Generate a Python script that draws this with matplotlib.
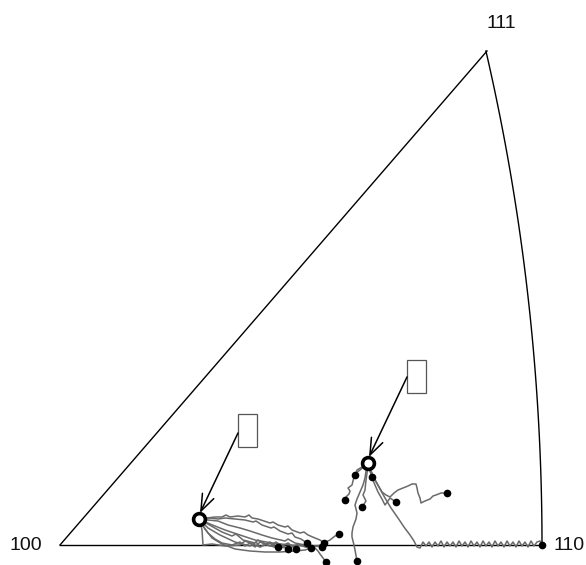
import numpy as np
import matplotlib
matplotlib.use("Agg")
import matplotlib.pyplot as plt
from matplotlib.patches import Rectangle

plt.rcParams['font.family'] = ['Liberation Sans', 'DejaVu Sans']

# Stereographic triangle corners (projection units, 100 at origin)
corner_labels = ["100", "110", "111"]
corner_x = [0.0, 482.0, 427.0]
corner_y = [0.0, 0.0, 494.0]
label_x = [-34.0, 509.0, 441.0]
label_y = [0.0, 0.0, 522.0]

# Start orientations (open circles) and their label boxes
start_x = [139.0, 308.0]
start_y = [26.0, 82.0]
box_x = [178.0, 347.0]
box_y = [98.0, 152.0]
box_w = 19.0
box_h = 33.0
arrow_from_x = [178.0, 347.0]
arrow_from_y = [112.0, 168.0]

# Trajectories starting from orientation 1
traj1 = [
    ([139, 147, 155, 162, 166, 170, 178, 185, 189, 192, 198, 204, 210, 213, 218, 225, 228, 232, 240, 244, 248, 255, 260, 264],
     [26, 27, 28, 28, 30, 28, 29, 28, 30, 27, 26, 24, 22, 23, 20, 18, 19, 15, 12, 13, 10, 7, 5, 2]),
    ([139, 150, 158, 165, 175, 185, 193, 196, 202, 211, 214, 220, 228, 232, 235, 241, 247],
     [26, 27, 26, 27, 26, 25, 23, 24, 20, 17, 18, 14, 11, 12, 8, 6, 2]),
    ([139, 148, 158, 168, 180, 190, 202, 212, 225, 228, 235, 245, 254, 262],
     [26, 25, 24, 20, 17, 14, 10, 7, 4, 6, 2, 0, -1, -2]),
    ([139, 146, 153, 162, 172, 176, 183, 195, 198, 206, 210, 218],
     [26, 22, 18, 13, 9, 11, 5, 2, 5, 1, 3, -2]),
    ([139, 143, 148, 155, 162, 172, 180, 185, 190, 200, 205, 214, 220, 228],
     [26, 19, 12, 6, 2, 0, 3, -1, 2, -2, 1, -2, 1, -4]),
    ([139, 141, 142, 143, 152, 165, 180, 185, 190, 195, 200, 205, 210, 216, 222, 228, 236],
     [26, 20, 15, 0, 1, -1, 0, 4, 2, -2, 3, 1, -1, 3, -1, 2, -4]),
    ([139, 145, 152, 162, 175, 190, 205, 220, 235, 245, 251],
     [26, 16, 7, 1, -4, -6, -7, -7, -6, -5, -3]),
    ([139, 150, 165, 180, 195, 212, 230, 245, 258, 264, 270, 275, 279],
     [26, 21, 15, 10, 5, 2, 0, -1, -1, 2, 5, 9, 11]),
    ([139, 148, 160, 175, 190, 196, 200, 210, 215, 230, 238, 245, 255, 258, 260, 263, 266],
     [26, 17, 10, 3, -1, 3, -2, 2, -2, -3, 1, -2, -3, -6, -9, -13, -17]),
]

# Trajectories starting from orientation 2
traj2 = [
    ([308, 302, 297, 296, 295],
     [82, 78, 75, 72, 70]),
    ([308, 300, 296, 294, 292, 288, 290, 289, 286, 285],
     [82, 75, 72, 68, 60, 57, 54, 51, 48, 45]),
    ([308, 309, 310, 312],
     [82, 78, 75, 68]),
    ([308, 307, 306, 305, 303, 306, 302],
     [82, 72, 65, 55, 50, 44, 38]),
    ([308, 310, 312, 315, 318, 322, 325, 328, 330, 333, 336],
     [82, 74, 67, 60, 53, 46, 40, 44, 47, 45, 43]),
    ([308, 311, 314, 318, 322, 326, 330, 334, 338, 343, 348, 352, 356, 357, 358, 360, 361, 365, 370, 373, 376, 381, 387],
     [82, 74, 67, 60, 53, 50, 48, 52, 55, 57, 59, 61, 61, 57, 52, 47, 42, 44, 46, 49, 50, 52, 52]),
    ([308, 311, 315, 320, 325, 331, 338, 344, 350, 354, 357, 360, 363, 366, 369, 372, 375, 378, 381, 384,
      387, 390, 393, 396, 399, 402, 405, 408, 411, 414, 417, 420, 423, 426, 429, 432, 435, 438, 441,
      444, 447, 450, 453, 456, 459, 462, 465, 468, 471, 474, 477, 480, 482],
     [82, 74, 65, 56, 47, 37, 27, 18, 10, 4, -2, -3, 3, -1, 3, -2, 3, -1, 4, -2,
      3, -1, 3, -2, 4, -1, 3, -2, 4, -1, 3, -2, 4, -1, 3, -2, 4, -1, 3,
      -2, 4, -1, 3, -2, 4, -1, 3, -2, 4, -1, 3, 4, 0]),
    ([308, 306, 305, 303, 300, 297, 295, 297, 296, 293, 292, 292, 294, 295, 297],
     [82, 74, 67, 60, 53, 46, 40, 32, 26, 18, 12, 8, 0, -5, -16]),
]

fig = plt.figure(figsize=(5.86, 5.65), dpi=100)
ax = fig.add_axes([0, 0, 1, 1])
ax.set_xlim(-60, 526)
ax.set_ylim(-20, 545)
ax.axis('off')

# Triangle edges: two straight lines and the stereographic arc 111-110
ax.plot([corner_x[0], corner_x[1]], [corner_y[0], corner_y[1]], color='black', lw=1.0)
ax.plot([corner_x[0], corner_x[2]], [corner_y[0], corner_y[2]], color='black', lw=1.0)
v = np.linspace(0, 1, 60)
n = np.sqrt(2 + v ** 2)
X = 1.0 / (n + 1)
Y = v / (n + 1)
sx = corner_x[1] / (1.0 / (1 + np.sqrt(2)))
sy = corner_y[2] / (1.0 / (1 + np.sqrt(3)))
ax.plot(X * sx, Y * sy, color='black', lw=1.0)

for lab, lx, ly in zip(corner_labels, label_x, label_y):
    ax.text(lx, ly, lab, fontsize=14, ha='center', va='center', color='#111111')

gray = '#6a6a6a'
for tx, ty in traj1 + traj2:
    ax.plot(tx, ty, color=gray, lw=1.1, zorder=2)
    ax.plot(tx[-1], ty[-1], 'o', color='black', ms=4.5, zorder=4)

ax.plot(start_x, start_y, 'o', ms=8.5, mfc='white', mec='black', mew=2.6, zorder=5)

for bx, by, fx, fy, sx0, sy0 in zip(box_x, box_y, arrow_from_x, arrow_from_y, start_x, start_y):
    ax.add_patch(Rectangle((bx, by), box_w, box_h, fill=False, ec='#555555', lw=0.9))
    ax.annotate('', xy=(sx0 + 1, sy0 + 6), xytext=(fx, fy),
                arrowprops=dict(arrowstyle='->,head_length=1.2,head_width=0.45',
                                color='black', lw=1.1, shrinkA=0, shrinkB=0))

fig.savefig('out.png', dpi=100)
